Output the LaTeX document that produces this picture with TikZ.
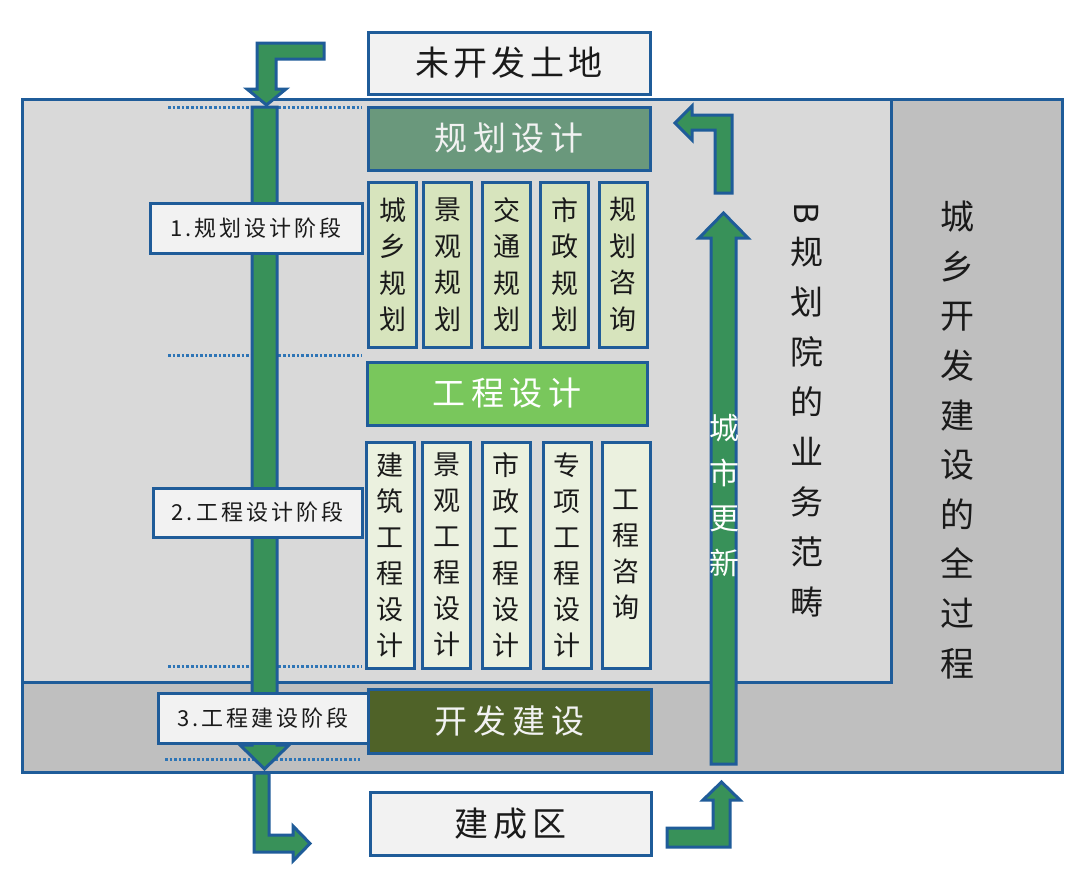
\documentclass[tikz,border=0pt]{standalone}
\usepackage{fontspec}
\setmainfont{Noto Sans CJK SC}
\definecolor{bord}{HTML}{1F5C99}
\definecolor{glight}{HTML}{D9D9D9}
\definecolor{gdark}{HTML}{BFBFBF}
\definecolor{paper}{HTML}{F2F2F2}
\definecolor{plan}{HTML}{6A987C}
\definecolor{planitem}{HTML}{D7E4BD}
\definecolor{eng}{HTML}{79C75C}
\definecolor{engitem}{HTML}{EBF1DF}
\definecolor{build}{HTML}{4F6228}
\definecolor{agreen}{HTML}{389159}
\definecolor{dotblue}{HTML}{2E75B6}
\definecolor{ink}{HTML}{1A1A1A}
\newcommand{\fsz}[2]{\fontsize{#1}{#2}\selectfont}
\newcommand{\lsp}[1]{\addfontfeature{LetterSpace=#1}}
\tikzset{
  frame/.style={draw=bord,line width=3pt},
  box/.style={draw=bord,line width=3pt,inner sep=0pt,text=ink},
  arr/.style={draw=bord,line width=3pt,fill=agreen,line join=miter},
  dotl/.style={draw=dotblue,line width=3pt,dash pattern=on 2.6pt off 2pt},
  colbox/.style={box,minimum width=48pt,align=center},
  vt/.style={align=center,inner sep=0pt,text=ink},
}
\begin{document}
\begin{tikzpicture}[x=1pt,y=-1pt]
\useasboundingbox (0,0) rectangle (1080,889);
\fill[white] (0,0) rectangle (1080,889);
% frame regions
\fill[gdark] (22,99) rectangle (1062,772);
\fill[glight] (22,99) rectangle (891,682);
\draw[frame] (22,99) rectangle (1062,772);
\draw[frame] (22,99) rectangle (891,682);
% dotted stage separators
\draw[dotl] (168,107) -- (362,107);
\draw[dotl] (168,355) -- (362,355);
\draw[dotl] (168,666) -- (362,666);
\draw[dotl] (165,759) -- (360,759);
% arrows
\draw[arr] (252,107) -- (277,107) -- (277,745) -- (289,745) -- (264.5,769) -- (240,745) -- (252,745) -- cycle;
\draw[arr] (711,764) -- (736,764) -- (736,238) -- (748,238) -- (723.5,213) -- (699,238) -- (711,238) -- cycle;
\draw[arr] (324,43) -- (257,43) -- (257,89) -- (247,89) -- (266.5,105) -- (286,89) -- (276,89) -- (276,59) -- (324,59) -- cycle;
\draw[arr] (715,193) -- (732,193) -- (732,115) -- (692,115) -- (692,106) -- (675,123) -- (692,140) -- (692,130) -- (715,130) -- cycle;
\draw[arr] (254,773) -- (269,773) -- (269,835) -- (293,835) -- (293,826) -- (310,843.5) -- (293,861) -- (293,852) -- (254,852) -- cycle;
\draw[arr] (667,828) -- (713,828) -- (713,800) -- (703,800) -- (721.5,782) -- (740,800) -- (730,800) -- (730,847) -- (667,847) -- cycle;
% main boxes
\node[box,fill=paper,minimum width=282pt,minimum height=62pt,font={\fsz{34}{40}\lsp{12}}] (land) at (509,63) {未开发土地};
\node[box,fill=plan,text=paper,minimum width=282pt,minimum height=63pt,font={\fsz{33}{40}\lsp{18}}] (plan) at (509,138.5) {规划设计};
\node[box,fill=eng,text=white,minimum width=280pt,minimum height=63pt,font={\fsz{33}{40}\lsp{18}}] (eng) at (507,393.5) {工程设计};
\node[box,fill=build,text=paper,minimum width=283pt,minimum height=64pt,font={\fsz{33}{40}\lsp{18}}] (build) at (509.5,721) {开发建设};
\node[box,fill=paper,minimum width=281pt,minimum height=63pt,font={\fsz{34}{40}\lsp{14}}] (done) at (510.5,823.5) {建成区};
% stage labels
\node[box,fill=paper,minimum width=212pt,minimum height=50pt,font={\fsz{22}{26}\lsp{14}}] (s1) at (256,228) {1.规划设计阶段};
\node[box,fill=paper,minimum width=209pt,minimum height=49pt,font={\fsz{22}{26}\lsp{14}}] (s2) at (257.5,512.5) {2.工程设计阶段};
\node[box,fill=paper,minimum width=210pt,minimum height=50pt,font={\fsz{22}{26}\lsp{14}}] (s3) at (263,718) {3.工程建设阶段};
% planning items
\begin{scope}[every node/.style={colbox,fill=planitem,minimum height=165pt,font=\fsz{27}{36.5}}]
\node (p1) at (392.5,264.5) {城\\乡\\规\\划};
\node (p2) at (447.5,264.5) {景\\观\\规\\划};
\node (p3) at (506.5,264.5) {交\\通\\规\\划};
\node (p4) at (564.5,264.5) {市\\政\\规\\划};
\node (p5) at (623,264.5) {规\\划\\咨\\询};
\end{scope}
% engineering items
\begin{scope}[every node/.style={colbox,fill=engitem,minimum height=226pt,font=\fsz{27}{36}}]
\node (e1) at (390,555) {建\\筑\\工\\程\\设\\计};
\node (e2) at (446.5,555) {景\\观\\工\\程\\设\\计};
\node (e3) at (506,555) {市\\政\\工\\程\\设\\计};
\node (e4) at (567,555) {专\\项\\工\\程\\设\\计};
\node (e5) at (626,555) {工\\程\\咨\\询};
\end{scope}
% vertical texts
\node[vt,text=white,font=\fsz{30}{45}] (renew) at (724,496) {城\\市\\更\\新};
\node[vt,rotate=-90,font=\fsz{33}{33}] (bletter) at (807,213) {B};
\node[vt,font=\fsz{33}{50}] (scope) at (807,427) {规\\划\\院\\的\\业\\务\\范\\畴};
\node[vt,font=\fsz{34}{49.6}] (whole) at (957,440) {城\\乡\\开\\发\\建\\设\\的\\全\\过\\程};
\end{tikzpicture}
\end{document}
